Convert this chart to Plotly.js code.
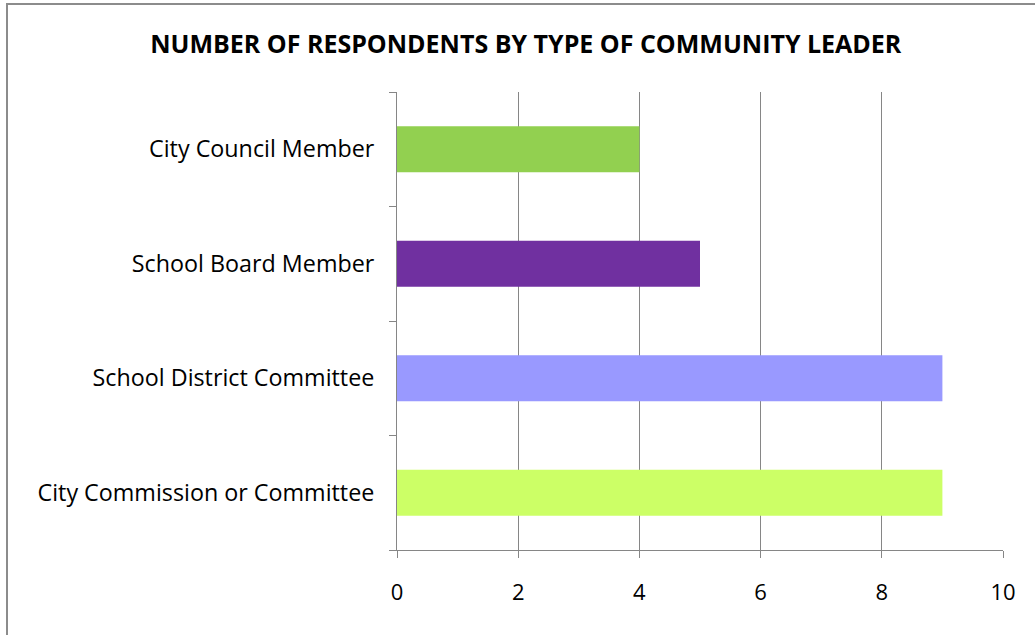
<!DOCTYPE html>
<html>
<head>
<meta charset="utf-8">
<script src="https://cdn.plot.ly/plotly-3.0.1.min.js"></script>
<style>
html,body{margin:0;padding:0;background:#fff;}
#wrap{position:relative;width:1035px;height:635px;}
#chart{width:1035px;height:635px;}
#frame{position:absolute;left:6px;top:3px;right:-2px;bottom:-2px;border-top:2px solid #8c8c8c;border-left:2px solid #8c8c8c;pointer-events:none;}
</style>
</head>
<body>
<div id="wrap"><div id="chart"></div><div id="frame"></div></div>
<script>
const categories = ["City Commission or Committee", "School District Committee", "School Board Member", "City Council Member"];
const counts = [9, 9, 5, 4];
const barColors = ["#CCFF66", "#9999FF", "#7030A0", "#92D050"];
const xTicks = [0, 2, 4, 6, 8, 10];

const trace = {
  type: "bar",
  orientation: "h",
  y: categories,
  x: counts,
  marker: {color: barColors, line: {width: 0}},
  width: 0.4,
  hoverinfo: "x+y"
};

const layout = {
  width: 1035,
  height: 635,
  paper_bgcolor: "#ffffff",
  plot_bgcolor: "#ffffff",
  margin: {l: 397, r: 32, t: 92, b: 85, pad: 0},
  title: {
    text: "NUMBER OF RESPONDENTS BY TYPE OF COMMUNITY LEADER",
    font: {family: "Open Sans, sans-serif", size: 25, color: "#000000", weight: "bold"},
    x: 0.508, xanchor: "center", y: 0.93, yanchor: "middle"
  },
  showlegend: false,
  xaxis: {
    range: [0, 10],
    tickvals: xTicks,
    ticktext: xTicks.map(String),
    showgrid: true,
    gridcolor: "#868686",
    gridwidth: 1,
    zeroline: false,
    showline: true,
    linecolor: "#868686",
    linewidth: 1,
    ticks: "outside",
    ticklen: 7,
    tickcolor: "#868686",
    ticklabelstandoff: 16,
    tickfont: {family: "Open Sans, sans-serif", size: 22, color: "#000000"},
    fixedrange: true
  },
  yaxis: {
    type: "category",
    categoryorder: "array",
    categoryarray: categories,
    range: [-0.5, 3.5],
    showgrid: false,
    zeroline: false,
    showline: true,
    linecolor: "#868686",
    linewidth: 1,
    ticks: "outside",
    tickson: "boundaries",
    ticklen: 7,
    tickcolor: "#868686",
    ticklabelstandoff: 17,
    tickfont: {family: "Open Sans, sans-serif", size: 23.3, color: "#000000"},
    fixedrange: true
  }
};

Plotly.newPlot("chart", [trace], layout, {displayModeBar: false});
</script>
</body>
</html>
